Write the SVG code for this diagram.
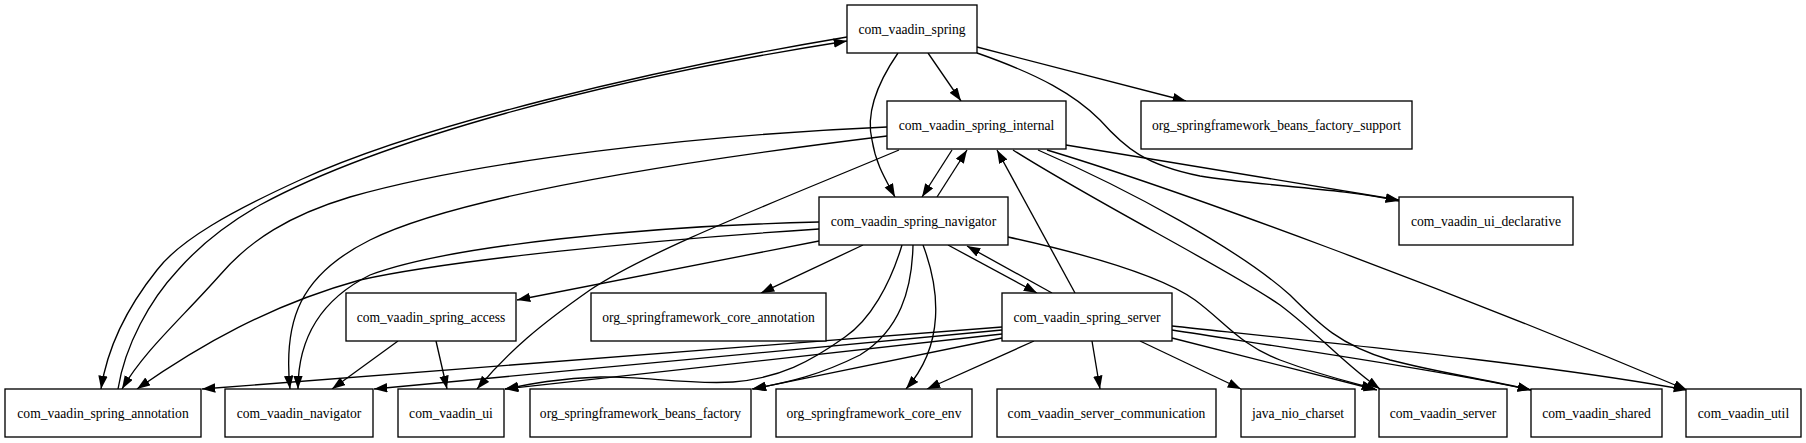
<svg xmlns="http://www.w3.org/2000/svg" width="1806" height="443" viewBox="0 0 1806 443">
<defs>
<marker id="arr" markerWidth="14" markerHeight="10" refX="13.3" refY="4.7" orient="auto" markerUnits="userSpaceOnUse"><path d="M0,0 L13.3,4.7 L0,9.4 z" fill="#000"/></marker>
<style>
.n rect{fill:#fff;stroke:#000;stroke-width:1.33}
.n text{font-family:"Liberation Serif","Times New Roman",serif;font-size:13.6px;text-anchor:middle;fill:#000}
#edges path{fill:none;stroke:#000;stroke-width:1.33;marker-end:url(#arr)}
</style>
</defs>
<rect width="1806" height="443" fill="#fff"/>
<g id="edges">
<path d="M928,53 L961,101"/>
<path d="M898,53 C876,85 866,115 872,140 C876,165 886,180 895,197"/>
<path d="M977,47 L1186,101"/>
<path d="M977,53 C1040,75 1075,95 1100,120 C1125,148 1145,165 1200,176 C1260,186 1340,188 1399,201"/>
<path d="M847,37 C650,70 420,125 300,180 C230,212 180,240 157,270 C125,310 107,350 101,389"/>
<path d="M118,389 C125,345 150,300 178,270 C200,245 225,225 260,205 C380,140 600,80 847,41"/>
<path d="M1066,145 L1399,200"/>
<path d="M952,150 L922,197"/>
<path d="M937,197 L967,150"/>
<path d="M887,127 C700,135 480,160 350,197 C290,215 250,240 220,275 C180,320 145,350 122,389"/>
<path d="M887,136 C650,165 450,200 370,240 C300,275 283,320 290,389"/>
<path d="M899,150 C780,200 650,250 590,290 C540,325 510,350 477,389"/>
<path d="M1013,150 C1100,205 1230,270 1280,305 C1320,335 1345,365 1380,389"/>
<path d="M1038,150 C1130,190 1240,250 1290,295 C1320,325 1340,345 1390,360 C1440,373 1490,380 1531,390"/>
<path d="M1047,150 C1180,190 1450,290 1687,390"/>
<path d="M819,241 L517,300"/>
<path d="M863,245 L761,293"/>
<path d="M948,245 L1037,293"/>
<path d="M1052,293 L967,246"/>
<path d="M1075,293 L997,150"/>
<path d="M819,222 C650,226 450,245 370,275 C320,300 298,340 298,389"/>
<path d="M819,229 C650,240 450,260 360,280 C270,305 200,345 137,389"/>
<path d="M902,245 C890,285 870,320 845,337 C810,362 780,378 733,382 C690,385 640,376 600,377 C560,378 530,384 505,389"/>
<path d="M913,245 C912,290 900,330 860,355 C820,375 790,382 752,389"/>
<path d="M923,245 C940,290 945,345 906,389"/>
<path d="M1008,237 C1090,255 1160,275 1195,300 C1225,322 1240,345 1280,360 C1320,375 1350,382 1375,389"/>
<path d="M398,341 L332,389"/>
<path d="M436,341 L447,389"/>
<path d="M1002,327 L202,389"/>
<path d="M1002,330 L374,389"/>
<path d="M1002,334 L505,389"/>
<path d="M1002,338 L753,389"/>
<path d="M1034,341 L927,389"/>
<path d="M1092,341 L1100,389"/>
<path d="M1140,341 L1241,389"/>
<path d="M1172,338 L1377,390"/>
<path d="M1172,330 C1300,350 1450,372 1531,390"/>
<path d="M1172,326 C1350,345 1550,365 1687,390"/>
</g>
<g id="com_vaadin_spring" class="n"><rect x="847" y="5" width="130" height="48"/><text x="912" y="33.5">com_vaadin_spring</text></g>
<g id="com_vaadin_spring_internal" class="n"><rect x="887" y="101" width="179" height="48"/><text x="976.5" y="129.5">com_vaadin_spring_internal</text></g>
<g id="org_springframework_beans_factory_support" class="n"><rect x="1141" y="101" width="271" height="48"/><text x="1276.5" y="129.5">org_springframework_beans_factory_support</text></g>
<g id="com_vaadin_spring_navigator" class="n"><rect x="819" y="197" width="189" height="48"/><text x="913.5" y="225.5">com_vaadin_spring_navigator</text></g>
<g id="com_vaadin_ui_declarative" class="n"><rect x="1399" y="197" width="174" height="48"/><text x="1486" y="225.5">com_vaadin_ui_declarative</text></g>
<g id="com_vaadin_spring_access" class="n"><rect x="346" y="293" width="170" height="48"/><text x="431" y="321.5">com_vaadin_spring_access</text></g>
<g id="org_springframework_core_annotation" class="n"><rect x="591" y="293" width="235" height="48"/><text x="708.5" y="321.5">org_springframework_core_annotation</text></g>
<g id="com_vaadin_spring_server" class="n"><rect x="1002" y="293" width="170" height="48"/><text x="1087" y="321.5">com_vaadin_spring_server</text></g>
<g id="com_vaadin_spring_annotation" class="n"><rect x="5" y="389" width="196" height="48"/><text x="103" y="417.5">com_vaadin_spring_annotation</text></g>
<g id="com_vaadin_navigator" class="n"><rect x="225" y="389" width="148" height="48"/><text x="299" y="417.5">com_vaadin_navigator</text></g>
<g id="com_vaadin_ui" class="n"><rect x="398" y="389" width="106" height="48"/><text x="451" y="417.5">com_vaadin_ui</text></g>
<g id="org_springframework_beans_factory" class="n"><rect x="530" y="389" width="221" height="48"/><text x="640.5" y="417.5">org_springframework_beans_factory</text></g>
<g id="org_springframework_core_env" class="n"><rect x="776" y="389" width="196" height="48"/><text x="874" y="417.5">org_springframework_core_env</text></g>
<g id="com_vaadin_server_communication" class="n"><rect x="997" y="389" width="219" height="48"/><text x="1106.5" y="417.5">com_vaadin_server_communication</text></g>
<g id="java_nio_charset" class="n"><rect x="1241" y="389" width="114" height="48"/><text x="1298" y="417.5">java_nio_charset</text></g>
<g id="com_vaadin_server" class="n"><rect x="1379" y="389" width="128" height="48"/><text x="1443" y="417.5">com_vaadin_server</text></g>
<g id="com_vaadin_shared" class="n"><rect x="1531" y="389" width="131" height="48"/><text x="1596.5" y="417.5">com_vaadin_shared</text></g>
<g id="com_vaadin_util" class="n"><rect x="1686" y="389" width="115" height="48"/><text x="1743.5" y="417.5">com_vaadin_util</text></g>
</svg>
